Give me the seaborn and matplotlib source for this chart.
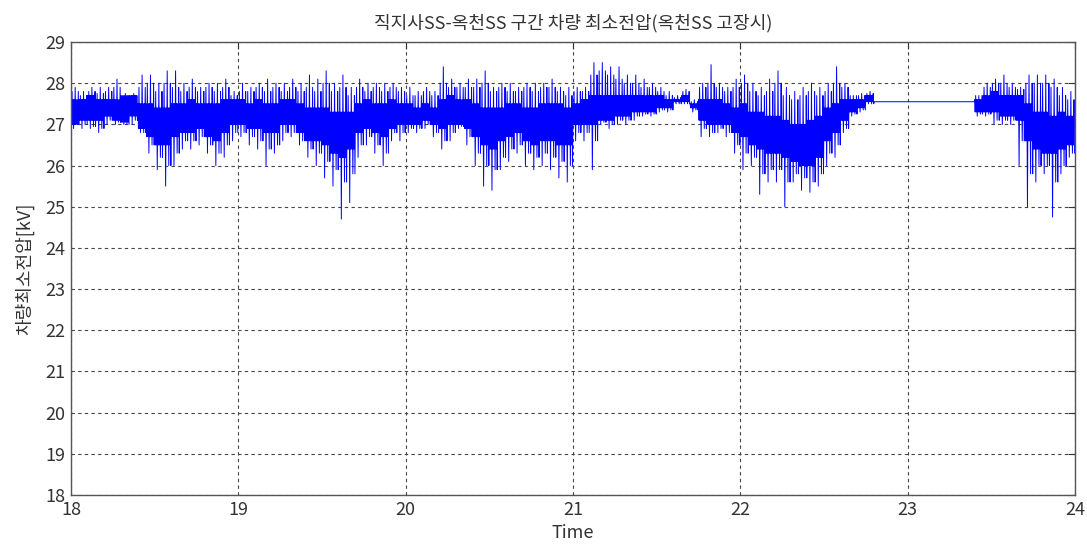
import matplotlib
matplotlib.use("Agg")
import matplotlib.pyplot as plt
import numpy as np
import pandas as pd
import seaborn as sns

# bin start times (0.05 h steps, 18:00 - 24:00)
bin_start = np.round(np.arange(18.0, 24.0, 0.05), 2)

# per-bin envelope [kV]
v_high = [27.9, 27.8, 27.9, 27.9, 27.9, 28.1, 27.75, 27.75, 28.2, 28.2,
          28.0, 28.3, 28.3, 28.0, 28.1, 27.9, 28.0, 28.0, 28.1, 27.8,
          28.0, 27.9, 28.0, 28.1, 28.0, 28.0, 28.1, 28.0, 28.2, 28.1,
          28.3, 28.0, 28.2, 27.9, 28.1, 28.0, 28.0, 28.0, 28.0, 27.9,
          27.9, 27.8, 27.9, 27.8, 28.4, 28.1, 28.0, 28.1, 28.1, 28.3,
          27.9, 28.0, 28.0, 27.9, 28.0, 28.0, 28.0, 28.1, 27.9, 27.9,
          27.9, 27.9, 28.5, 28.5, 28.4, 28.4, 28.2, 28.2, 28.1, 28.0,
          27.9, 27.8, 27.7, 27.85, 27.6, 28.0, 28.45, 28.0, 27.9, 28.1,
          28.2, 28.0, 27.9, 28.1, 28.3, 27.9, 27.8, 27.9, 28.0, 27.9,
          28.0, 28.4, 28.0, 27.7, 27.75, 27.8,
          27.55, 27.55, 27.55, 27.55, 27.55, 27.55, 27.55, 27.55, 27.55, 27.55, 27.55, 27.55,
          27.7, 28.0, 28.1, 28.2, 28.0, 27.9, 28.2, 28.2, 28.2, 28.1, 27.9, 27.8]
v_high2 = [27.8, 27.7, 27.8, 27.75, 27.8, 27.9, 27.7, 27.7, 27.9, 28.0,
           27.8, 28.0, 27.9, 27.8, 27.9, 27.8, 27.9, 27.8, 27.9, 27.7,
           27.8, 27.8, 27.9, 27.8, 27.9, 27.8, 27.9, 27.8, 27.9, 27.8,
           28.0, 27.8, 27.9, 27.7, 27.9, 27.8, 27.9, 27.8, 27.9, 27.8,
           27.7, 27.7, 27.8, 27.7, 28.0, 27.9, 27.9, 27.9, 27.9, 28.0,
           27.8, 27.9, 27.8, 27.8, 27.9, 27.8, 27.9, 27.9, 27.8, 27.7,
           27.8, 27.8, 28.2, 28.3, 28.2, 28.1, 28.0, 28.0, 27.9, 27.9,
           27.8, 27.7, 27.65, 27.8, 27.55, 27.9, 28.0, 27.9, 27.8, 27.9,
           28.0, 27.8, 27.7, 27.8, 28.0, 27.7, 27.6, 27.7, 27.8, 27.7,
           27.8, 28.0, 27.9, 27.7, 27.7, 27.75,
           27.55, 27.55, 27.55, 27.55, 27.55, 27.55, 27.55, 27.55, 27.55, 27.55, 27.55, 27.55,
           27.7, 27.9, 28.0, 28.0, 27.9, 27.85, 28.0, 28.0, 28.0, 27.9, 27.7, 27.6]
v_low = [26.9, 26.9, 26.9, 26.8, 27.0, 27.0, 27.0, 27.0, 26.8, 26.3,
         25.9, 25.5, 26.0, 26.4, 26.4, 26.5, 26.3, 26.0, 26.2, 26.6,
         26.7, 26.5, 26.4, 26.0, 26.3, 26.6, 26.7, 26.5, 26.2, 26.0,
         25.7, 25.5, 24.7, 25.1, 26.2, 26.5, 26.3, 26.0, 26.6, 26.6,
         26.8, 26.8, 26.9, 26.7, 26.4, 26.6, 26.9, 26.5, 26.0, 25.5,
         25.4, 25.9, 26.1, 26.3, 26.0, 25.9, 26.0, 25.9, 25.7, 25.6,
         26.6, 26.6, 25.9, 27.0, 26.9, 27.0, 27.0, 27.1, 27.2, 27.2,
         27.3, 27.3, 27.5, 27.5, 27.3, 26.7, 26.7, 26.8, 26.7, 26.3,
         25.9, 26.0, 25.3, 25.6, 25.6, 25.0, 25.6, 25.4, 25.35, 25.5,
         26.0, 26.2, 26.8, 27.2, 27.3, 27.5,
         27.55, 27.55, 27.55, 27.55, 27.55, 27.55, 27.55, 27.55, 27.55, 27.55, 27.55, 27.55,
         27.2, 27.2, 27.0, 27.0, 27.0, 26.0, 25.0, 25.6, 25.8, 24.75, 25.8, 26.2]
v_low2 = [27.0, 27.0, 26.95, 26.9, 27.1, 27.05, 27.0, 27.1, 26.8, 26.5,
          26.2, 26.0, 26.3, 26.6, 26.6, 26.7, 26.5, 26.3, 26.5, 26.8,
          26.8, 26.7, 26.6, 26.4, 26.5, 26.8, 26.8, 26.6, 26.4, 26.3,
          26.1, 25.9, 25.6, 25.8, 26.5, 26.7, 26.5, 26.3, 26.8, 26.8,
          26.9, 26.9, 27.0, 26.8, 26.6, 26.8, 26.95, 26.7, 26.3, 26.0,
          25.9, 26.2, 26.4, 26.5, 26.3, 26.2, 26.3, 26.2, 26.1, 26.0,
          26.8, 26.8, 26.6, 27.05, 27.0, 27.1, 27.1, 27.2, 27.25, 27.25,
          27.35, 27.35, 27.5, 27.5, 27.35, 26.9, 26.8, 26.9, 26.8, 26.5,
          26.3, 26.2, 25.8, 25.9, 25.9, 25.6, 25.8, 25.7, 25.6, 25.8,
          26.3, 26.5, 26.9, 27.25, 27.35, 27.5,
          27.55, 27.55, 27.55, 27.55, 27.55, 27.55, 27.55, 27.55, 27.55, 27.55, 27.55, 27.55,
          27.25, 27.25, 27.1, 27.1, 27.1, 26.6, 25.8, 26.0, 26.0, 25.6, 26.0, 26.3]
core_high = [27.6, 27.6, 27.7, 27.6, 27.6, 27.6, 27.7, 27.7, 27.5, 27.5,
             27.4, 27.4, 27.5, 27.5, 27.6, 27.5, 27.5, 27.5, 27.6, 27.6,
             27.6, 27.5, 27.6, 27.5, 27.5, 27.6, 27.6, 27.5, 27.4, 27.4,
             27.4, 27.3, 27.3, 27.3, 27.5, 27.6, 27.5, 27.5, 27.6, 27.5,
             27.5, 27.4, 27.5, 27.4, 27.6, 27.7, 27.6, 27.6, 27.5, 27.4,
             27.4, 27.4, 27.5, 27.5, 27.4, 27.4, 27.5, 27.5, 27.5, 27.4,
             27.5, 27.6, 27.7, 27.7, 27.7, 27.7, 27.7, 27.7, 27.7, 27.7,
             27.7, 27.6, 27.6, 27.7, 27.5, 27.6, 27.6, 27.6, 27.5, 27.4,
             27.5, 27.3, 27.3, 27.2, 27.2, 27.1, 27.0, 27.0, 27.1, 27.2,
             27.4, 27.5, 27.6, 27.6, 27.6, 27.7,
             27.55, 27.55, 27.55, 27.55, 27.55, 27.55, 27.55, 27.55, 27.55, 27.55, 27.55, 27.55,
             27.6, 27.7, 27.8, 27.7, 27.7, 27.7, 27.5, 27.3, 27.3, 27.2, 27.3, 27.2]
core_low = [27.0, 27.1, 27.1, 27.1, 27.2, 27.1, 27.05, 27.2, 26.9, 26.7,
            26.5, 26.5, 26.7, 26.8, 26.8, 26.9, 26.7, 26.6, 26.8, 27.0,
            27.0, 26.9, 26.9, 26.8, 26.8, 27.0, 27.0, 26.8, 26.6, 26.6,
            26.5, 26.3, 26.2, 26.4, 26.8, 26.9, 26.8, 26.7, 26.9, 27.0,
            27.0, 27.0, 27.1, 27.0, 26.9, 27.0, 27.0, 26.9, 26.7, 26.5,
            26.4, 26.6, 26.7, 26.8, 26.6, 26.5, 26.6, 26.6, 26.5, 26.5,
            27.0, 27.0, 27.0, 27.1, 27.1, 27.2, 27.2, 27.3, 27.3, 27.3,
            27.4, 27.4, 27.55, 27.55, 27.4, 27.1, 27.0, 27.0, 27.0, 26.8,
            26.7, 26.5, 26.4, 26.3, 26.3, 26.2, 26.1, 26.0, 26.0, 26.2,
            26.6, 26.8, 27.1, 27.3, 27.4, 27.55,
            27.55, 27.55, 27.55, 27.55, 27.55, 27.55, 27.55, 27.55, 27.55, 27.55, 27.55, 27.55,
            27.3, 27.3, 27.3, 27.2, 27.2, 27.1, 26.6, 26.4, 26.3, 26.3, 26.4, 26.5]

# order in which the trace visits the levels inside each bin
pattern = ["ch", "cl", "h2", "cl", "ch", "lo", "ch", "cl",
           "hi", "cl", "ch", "l2", "ch", "cl", "h2", "l2"]

rows = []
for i, t0 in enumerate(bin_start):
    vals = {"hi": v_high[i], "h2": v_high2[i], "lo": v_low[i], "l2": v_low2[i],
            "ch": core_high[i], "cl": core_low[i]}
    for k, key in enumerate(pattern):
        rows.append((t0 + 0.05 * k / len(pattern), vals[key]))
df = pd.DataFrame(rows, columns=["time", "volt"])

sns.set_style("white")
plt.rcParams['font.family'] = ['Liberation Sans Narrow', 'Noto Sans CJK KR', 'DejaVu Sans']

fig = plt.figure(figsize=(10.87, 5.5), dpi=100)
ax = fig.add_axes([0.0653, 0.1, 0.9237, 0.8236])
sns.lineplot(data=df, x="time", y="volt", sort=False, estimator=None,
             color="#0000ff", linewidth=0.7, ax=ax)

ax.set_xlim(18, 24)
ax.set_ylim(18, 29)
ax.set_xticks(range(18, 25))
ax.set_yticks(range(18, 30))
ax.grid(True, color="#444444", linestyle=(0, (3, 3)), linewidth=0.8)
ax.tick_params(direction="in", top=True, right=True, length=5,
               labelsize=13, colors="#333333", pad=4)
for s in ax.spines.values():
    s.set_color("#555555")
    s.set_linewidth(1.0)

ax.set_title("직지사SS-옥천SS 구간 차량 최소전압(옥천SS 고장시)", fontsize=13,
             color="#333333", pad=10,
             family=['Noto Sans CJK KR', 'DejaVu Sans'])
ax.set_xlabel("Time", fontsize=13, color="#333333", labelpad=4)
ax.set_ylabel("차량최소전압[kV]", fontsize=13, color="#333333", labelpad=8,
              family=['Noto Sans CJK KR', 'DejaVu Sans'])

fig.savefig("out.png", dpi=100)
